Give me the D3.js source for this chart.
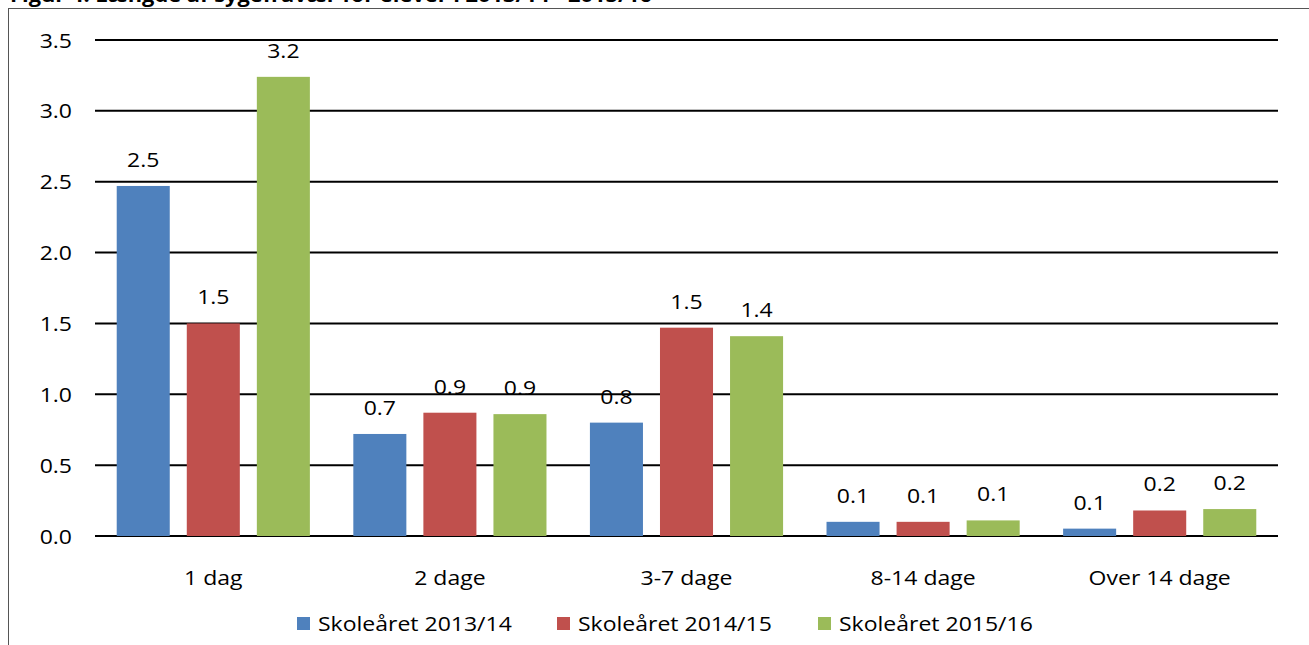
<!DOCTYPE html>
<html>
<head>
<meta charset="utf-8">
<title>Sygefravær</title>
<style>
  body { margin: 0; background: #fff; }
  text { font-family: "Open Sans", Lato, sans-serif; }
</style>
<script src="https://d3js.org/d3.v7.min.js"></script>
</head>
<body>
<div id="chart"></div>
<script>
// data
var categories = ["1 dag", "2 dage", "3-7 dage", "8-14 dage", "Over 14 dage"];
var seriesNames = ["Skoleåret 2013/14", "Skoleåret 2014/15", "Skoleåret 2015/16"];
var values2013 = [2.47, 0.72, 0.80, 0.10, 0.052];
var values2014 = [1.50, 0.87, 1.47, 0.10, 0.18];
var values2015 = [3.24, 0.86, 1.41, 0.11, 0.19];
var yTicks = [0, 0.5, 1.0, 1.5, 2.0, 2.5, 3.0, 3.5];
var colors = ["#4F81BD", "#C0504D", "#9BBB59"];

var series = [values2013, values2014, values2015].map(function(v, i) {
  return { name: seriesNames[i], values: v };
});

var W = 1309, H = 645;
var plot = { left: 95, right: 1278, top: 40, bottom: 536 };
var font = "'Open Sans', Lato, sans-serif";
var stretch = "scale(1.15,1)"; // the source text is a bit wide

var svg = d3.select("#chart").append("svg")
  .attr("width", W)
  .attr("height", H);

// frame (runs off the right and bottom edge)
svg.append("rect")
  .attr("x", 8.5).attr("y", 8.5)
  .attr("width", W + 20).attr("height", H + 20)
  .attr("fill", "none")
  .attr("stroke", "#555")
  .attr("stroke-width", 1);

// title, mostly cut off at the top
svg.append("text")
  .attr("transform", "translate(10,2) " + stretch)
  .attr("font-size", 19)
  .attr("font-weight", "bold")
  .text("Figur 4: Længde af sygefravær for elever i 2013/14 - 2015/16");

var x0 = d3.scaleBand()
  .domain(categories)
  .range([plot.left, plot.right])
  .padding(0);

var x1 = d3.scaleBand()
  .domain(d3.range(series.length))
  .range([0, x0.bandwidth()])
  .paddingInner(0.243)
  .paddingOuter(0.31);

var y = d3.scaleLinear()
  .domain([0, 3.5])
  .range([plot.bottom, plot.top]);

// gridlines
svg.append("g")
  .selectAll("line")
  .data(yTicks).enter()
  .append("line")
  .attr("x1", plot.left).attr("x2", plot.right)
  .attr("y1", d => y(d)).attr("y2", d => y(d))
  .attr("stroke", "#000")
  .attr("stroke-width", 2);

// y axis labels
var yAxis = d3.axisLeft(y).tickValues(yTicks).tickFormat(d3.format(".1f")).tickSize(0).tickPadding(0);
var yg = svg.append("g")
  .attr("transform", "translate(72,0)")
  .call(yAxis);
yg.select(".domain").remove();
yg.selectAll("text")
  .attr("font-size", 20)
  .attr("font-family", font)
  .attr("fill", "#000")
  .attr("x", 0)
  .attr("dy", "0.35em")
  .attr("transform", stretch);

// bars
var groups = svg.append("g")
  .selectAll("g")
  .data(series).enter()
  .append("g")
  .attr("fill", (d, i) => colors[i]);

groups.each(function(s, si) {
  var g = d3.select(this);
  g.selectAll("rect")
    .data(s.values).enter()
    .append("rect")
    .attr("x", (d, ci) => x0(categories[ci]) + x1(si))
    .attr("y", d => y(d))
    .attr("width", x1.bandwidth())
    .attr("height", d => y(0) - y(d));

  g.selectAll("text")
    .data(s.values).enter()
    .append("text")
    .attr("transform", (d, ci) => "translate(" + (x0(categories[ci]) + x1(si) + x1.bandwidth() / 2) +
      "," + (y(d) - 19) + ") " + stretch)
    .attr("text-anchor", "middle")
    .attr("font-size", 20)
    .attr("fill", "#000")
    .text(d => d.toFixed(1));
});

// x axis labels
var xAxis = d3.axisBottom(x0).tickSize(0).tickPadding(0);
var xg = svg.append("g")
  .attr("transform", "translate(0," + plot.bottom + ")")
  .call(xAxis);
xg.select(".domain").remove();
xg.selectAll("text")
  .attr("font-size", 20)
  .attr("font-family", font)
  .attr("fill", "#000")
  .attr("dy", 0)
  .attr("y", 0)
  .attr("transform", "translate(0,49) " + stretch);

// legend
var legendX = [297, 557, 818];
var legend = svg.append("g")
  .selectAll("g")
  .data(series).enter()
  .append("g")
  .attr("transform", (d, i) => "translate(" + legendX[i] + ",617)");

legend.append("rect")
  .attr("width", 13).attr("height", 13)
  .attr("fill", (d, i) => colors[i]);

legend.append("text")
  .attr("transform", "translate(21,14) " + stretch)
  .attr("font-size", 20)
  .attr("fill", "#000")
  .text(d => d.name);
</script>
</body>
</html>
